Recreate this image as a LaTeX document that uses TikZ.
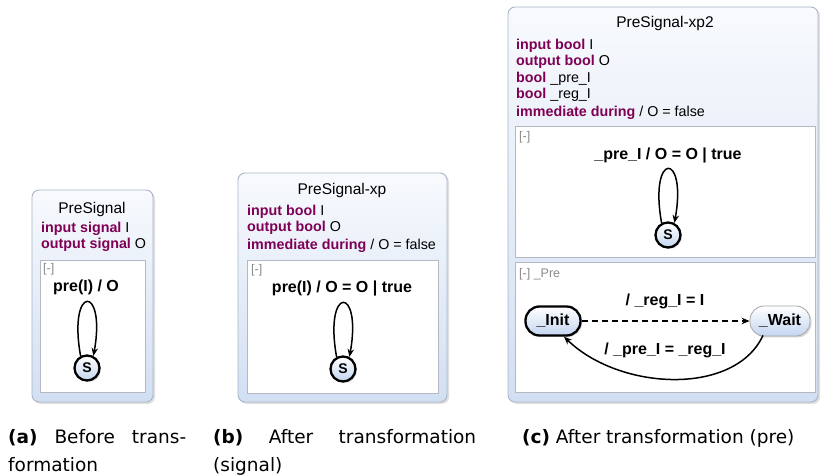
\documentclass[tikz,border=0pt]{standalone}
\usepackage{fontspec}
\setmainfont{Liberation Sans}
\newfontfamily\capfont{DejaVu Sans}
\usetikzlibrary{shadows,arrows.meta}
\definecolor{kw}{HTML}{7F0055}
\definecolor{boxline}{HTML}{A9B4C6}
\definecolor{boxbot}{HTML}{D2DFF3}
\definecolor{boxtop}{HTML}{F8FAFD}
\definecolor{innerline}{HTML}{B4B8C0}
\definecolor{statebot}{HTML}{C3D5F0}
\definecolor{hidegray}{HTML}{8A8A8A}
\newcommand{\kwd}[1]{\textcolor{kw}{\textbf{#1}}}
\tikzset{
  outerbox/.style={draw=boxline, line width=0.9pt, rounded corners=7pt, top color=boxtop, bottom color=boxbot,
     drop shadow={opacity=0.25, shadow xshift=2pt, shadow yshift=-2pt}},
  innerbox/.style={draw=innerline, line width=0.9pt, fill=white},
  titletext/.style={font=\fontsize{15.5}{18}\selectfont, inner sep=0pt},
  decl/.style={font=\fontsize{14.3}{16}\selectfont, anchor=west, inner sep=0pt},
  hide/.style={font=\fontsize{12.5}{14}\selectfont, text=hidegray, anchor=west, inner sep=0pt},
  translabel/.style={font=\fontsize{16}{18}\selectfont\bfseries, inner sep=0pt},
  statecirc/.style={circle, draw=black, line width=2.3pt, minimum size=25pt, inner sep=0pt,
     top color=white, bottom color=statebot, font=\fontsize{14}{15}\selectfont\bfseries,
     drop shadow={opacity=0.3, shadow xshift=1.5pt, shadow yshift=-1.5pt}},
  staterect/.style={rectangle, rounded corners=14pt, minimum height=29pt, inner sep=0pt,
     top color=white, bottom color=statebot, font=\fontsize{16}{18}\selectfont\bfseries,
     drop shadow={opacity=0.3, shadow xshift=1.5pt, shadow yshift=-1.5pt}},
  trans/.style={line width=1.5pt, -{Stealth[length=8pt,width=6.5pt]}},
  captext/.style={font=\capfont\fontsize{18.5}{21}\selectfont, inner sep=0pt, anchor=base west},
}
\begin{document}
\begin{tikzpicture}[x=1pt,y=1pt]
\useasboundingbox (0,0) rectangle (820,476);
% ---------- (a)
\draw[outerbox] (32,286) rectangle (153,74);
\node[titletext] (ta) at (92,267) {PreSignal};
\node[decl] (da1) at (41,247) {\kwd{input signal} I};
\node[decl] (da2) at (41,231) {\kwd{output signal} O};
\draw[innerbox] (40,216) rectangle (145,84);
\node[hide] (ha) at (43,207) {[-]};
\node[translabel] (la) at (86,189) {pre(I) / O};
\node[statecirc] (sa) at (87,108) {S};
\draw[trans] (sa.118) .. controls +(-13,72) and +(13,72) .. (sa.62);
% ---------- (b)
\draw[outerbox] (238,303) rectangle (447,74);
\node[titletext] (tb) at (342,286) {PreSignal-xp};
\node[decl] (db1) at (247,264) {\kwd{input bool} I};
\node[decl] (db2) at (247,248) {\kwd{output bool} O};
\node[decl] (db3) at (247,230) {\kwd{immediate during} / O = false};
\draw[innerbox] (247,216) rectangle (438,83);
\node[hide] (hb) at (251,206) {[-]};
\node[translabel] (lb) at (342,188) {pre(I) / O = O | true};
\node[statecirc] (sb) at (343,107) {S};
\draw[trans] (sb.118) .. controls +(-13,72) and +(13,72) .. (sb.62);
% ---------- (c)
\draw[outerbox] (508,469) rectangle (818,74);
\node[titletext] (tc) at (665,452) {PreSignal-xp2};
\node[decl] (dc1) at (516,430) {\kwd{input bool} I};
\node[decl] (dc2) at (516,414) {\kwd{output bool} O};
\node[decl] (dc3) at (516,397) {\kwd{bool} \_pre\_I};
\node[decl] (dc4) at (516,381) {\kwd{bool} \_reg\_I};
\node[decl] (dc5) at (516,363) {\kwd{immediate during} / O = false};
\draw[innerbox] (515,350) rectangle (815,219);
\node[hide] (hc1) at (519,339) {[-]};
\node[translabel] (lc1) at (668,321) {\_pre\_I / O = O | true};
\node[statecirc] (sc) at (668,241) {S};
\draw[trans] (sc.118) .. controls +(-13,72) and +(13,72) .. (sc.62);
\draw[innerbox] (515,214) rectangle (815,84);
\node[hide] (hc2) at (519,202) {[-] \_Pre};
\node[staterect, draw=black, line width=2.3pt, minimum width=55pt] (init) at (553,155) {\_Init};
\node[staterect, draw=gray!70, line width=0.8pt, minimum width=60pt, minimum height=30pt] (wait) at (780,155) {\_Wait};
\draw[trans, dash pattern=on 6pt off 4pt] (init.east) -- (wait.west);
\node[translabel] (lc2) at (665,175) {/ \_reg\_I = I};
\coordinate (ws) at ([shift={(-17,1)}]wait.south);
\draw[trans] (ws) .. controls (735,80) and (620,85) .. (init.305);
\node[translabel] (lc3) at (665,126) {/ \_pre\_I = \_reg\_I};
% ---------- captions
\node[captext] (capa1) at (8,32) {\makebox[178pt][s]{\textbf{(a)} Before trans-}};
\node[captext] (capa2) at (8,4) {formation};
\node[captext] (capb1) at (213,32) {\makebox[263pt][s]{\textbf{(b)} After transformation}};
\node[captext] (capb2) at (213,4) {(signal)};
\node[captext] (capc) at (522,32) {\textbf{(c)} After transformation (pre)};
\end{tikzpicture}
\end{document}
